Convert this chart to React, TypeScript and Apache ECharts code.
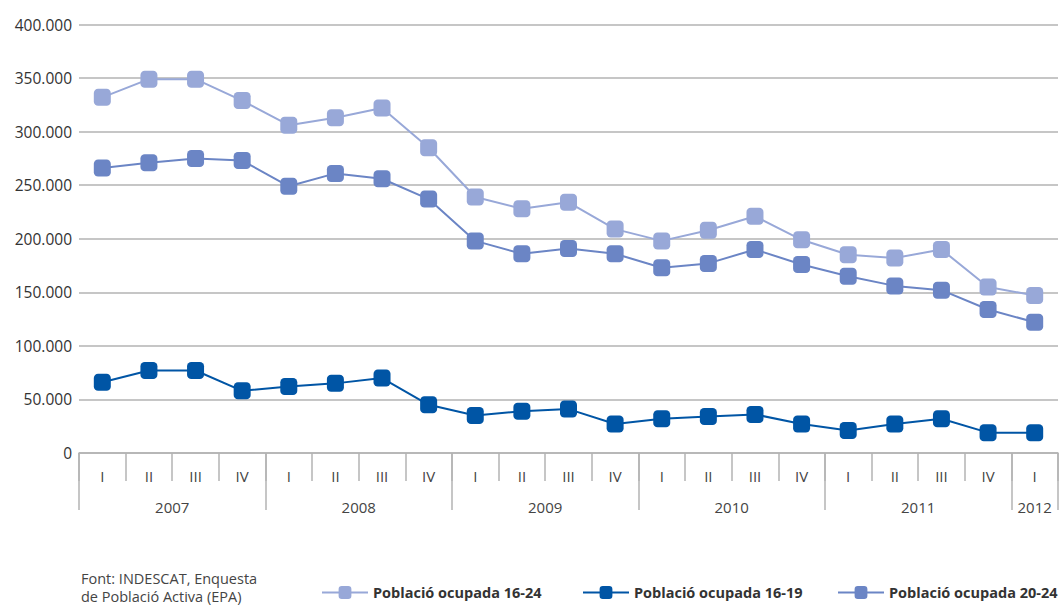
import React, { useEffect, useRef } from "react";
import * as echarts from "echarts";

const quarters = ["I","II","III","IV","I","II","III","IV","I","II","III","IV","I","II","III","IV","I","II","III","IV","I"];
const yearLabels: [number, string][] = [[2, "2007"], [6, "2008"], [10, "2009"], [14, "2010"], [18, "2011"], [20.5, "2012"]];
const seriesNames = ["Població ocupada 16-24", "Població ocupada 16-19", "Població ocupada 20-24"];
const pob1624 = [332000, 349000, 349000, 329000, 306000, 313000, 322000, 285000, 239000, 228000, 234000, 209000, 198000, 208000, 221000, 199000, 185000, 182000, 190000, 155000, 147000];
const pob1619 = [66000, 77000, 77000, 58000, 62000, 65000, 70000, 45000, 35000, 39000, 41000, 27000, 32000, 34000, 36000, 27000, 21000, 27000, 32000, 19000, 19000];
const pob2024 = [266000, 271000, 275000, 273000, 249000, 261000, 256000, 237000, 198000, 186000, 191000, 186000, 173000, 177000, 190000, 176000, 165000, 156000, 152000, 134000, 122000];

const FONT = "'Open Sans', 'Noto Sans', sans-serif";
const GRID_COLOR = "#b3b3b3";
const LEGEND_LEFT = [316, 577, 832];

export default function App() {
  const ref = useRef<HTMLDivElement>(null);
  useEffect(() => {
    document.body.style.margin = "0";
    const chart = echarts.init(ref.current!, null, { renderer: "svg" });
    const mkSeries = (name: string, data: number[], color: string, z: number) => ({
      name,
      type: "line",
      data,
      xAxisIndex: 0,
      symbol: "roundRect",
      symbolSize: 17,
      z,
      lineStyle: { color, width: 2 },
      itemStyle: { color },
    });
    chart.setOption({
      animation: false,
      textStyle: { fontFamily: FONT },
      grid: { left: 79, right: 0, top: 24.5, bottom: 158, containLabel: false },
      title: {
        text: "Font: INDESCAT, Enquesta\nde Població Activa (EPA)",
        left: 81,
        top: 569,
        padding: 0,
        textStyle: { fontSize: 14.5, fontWeight: "normal", color: "#444", fontFamily: FONT, lineHeight: 18 },
      },
      legend: seriesNames.map((n, i) => ({
        left: LEGEND_LEFT[i],
        top: 580,
        itemWidth: 46,
        itemHeight: 16,
        itemGap: 8,
        textStyle: { fontSize: 14.5, fontWeight: "bold", color: "#333", fontFamily: FONT },
        data: [n],
      })),
      xAxis: [
        {
          type: "category",
          data: quarters,
          boundaryGap: true,
          axisLine: { show: true, lineStyle: { color: GRID_COLOR, width: 1.5 } },
          axisTick: { show: true, interval: 0, length: 28, lineStyle: { color: GRID_COLOR, width: 1.5 } },
          axisLabel: { interval: 0, margin: 15, fontSize: 15, color: "#444", fontFamily: FONT },
        },
        {
          type: "value",
          min: 0,
          max: 21,
          interval: 0.5,
          position: "bottom",
          axisLine: { show: false },
          axisTick: { show: false },
          splitLine: { show: false },
          axisLabel: {
            margin: 46,
            fontSize: 15,
            color: "#444",
            fontFamily: FONT,
            showMinLabel: true,
            showMaxLabel: true,
            formatter: (v: number) => {
              const f = yearLabels.find((y) => Math.abs(y[0] - v) < 0.01);
              return f ? f[1] : "";
            },
          },
        },
        {
          type: "category",
          data: quarters,
          boundaryGap: true,
          position: "bottom",
          axisLine: { show: false },
          axisTick: {
            show: true,
            length: 57,
            interval: (i: number) => i % 4 === 0,
            lineStyle: { color: GRID_COLOR, width: 1.5 },
          },
          axisLabel: { show: false },
        },
      ],
      yAxis: {
        type: "value",
        min: 0,
        max: 400000,
        interval: 50000,
        axisLine: { show: false },
        axisTick: { show: false },
        splitLine: { lineStyle: { color: GRID_COLOR, width: 1.5 } },
        axisLabel: {
          margin: 7,
          fontSize: 15.5,
          color: "#333",
          fontFamily: FONT,
          padding: [0, 0, 6, 0],
          formatter: (v: number) => (v === 0 ? "0" : v.toLocaleString("de-DE")),
        },
      },
      series: [
        mkSeries(seriesNames[0], pob1624, "#98a8d8", 3),
        mkSeries(seriesNames[1], pob1619, "#0055a5", 4),
        mkSeries(seriesNames[2], pob2024, "#6b85c5", 5),
      ],
    });
    return () => chart.dispose();
  }, []);
  return <div ref={ref} style={{ position: "absolute", left: 0, top: 0, width: 1061, height: 611 }} />;
}
